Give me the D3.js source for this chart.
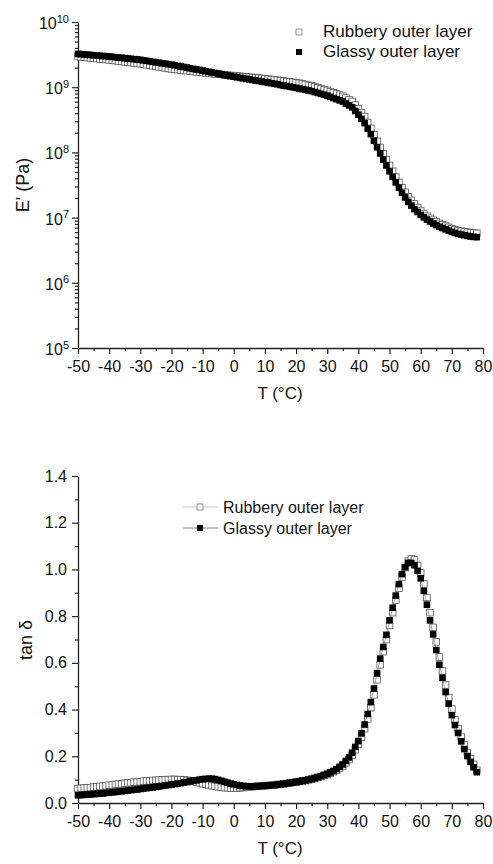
<!DOCTYPE html>
<html><head><meta charset="utf-8">
<script src="https://cdn.jsdelivr.net/npm/d3@7"></script>
<style>
body{margin:0;background:#fff}
svg{display:block}
text{font-family:"Liberation Sans",Arial,Helvetica,sans-serif;fill:#111}
</style>
</head><body>
<svg id="c" width="493" height="864"></svg>
<script>
// ---------- DATA ----------
const seriesNames = ["Rubbery outer layer", "Glassy outer layer"];
const temps = [-50,-49,-48,-47,-46,-45,-44,-43,-42,-41,-40,-39,-38,-37,-36,-35,-34,-33,-32,-31,
-30,-29,-28,-27,-26,-25,-24,-23,-22,-21,-20,-19,-18,-17,-16,-15,-14,-13,-12,-11,
-10,-9,-8,-7,-6,-5,-4,-3,-2,-1,0,1,2,3,4,5,6,7,8,9,10,11,12,13,14,15,16,17,18,19,
20,21,22,23,24,25,26,27,28,29,30,31,32,33,34,35,36,37,38,39,40,41,42,43,44,45,46,47,48,49,
50,51,52,53,54,55,56,57,58,59,60,61,62,63,64,65,66,67,68,69,70,71,72,73,74,75,76,77,78];

// Storage modulus E' (Pa)
const rubberyE = [2.95e9,2.92e9,2.88e9,2.85e9,2.82e9,2.79e9,2.75e9,2.72e9,2.69e9,2.66e9,
2.63e9,2.59e9,2.56e9,2.52e9,2.49e9,2.45e9,2.42e9,2.39e9,2.36e9,2.32e9,
2.29e9,2.25e9,2.21e9,2.17e9,2.13e9,2.09e9,2.05e9,2.01e9,1.98e9,1.94e9,
1.91e9,1.88e9,1.86e9,1.83e9,1.81e9,1.79e9,1.77e9,1.74e9,1.72e9,1.70e9,
1.68e9,1.66e9,1.64e9,1.62e9,1.60e9,1.58e9,1.57e9,1.55e9,1.53e9,1.51e9,
1.50e9,1.48e9,1.47e9,1.45e9,1.44e9,1.42e9,1.41e9,1.39e9,1.38e9,1.36e9,
1.35e9,1.33e9,1.31e9,1.29e9,1.28e9,1.26e9,1.24e9,1.22e9,1.21e9,1.19e9,
1.17e9,1.15e9,1.12e9,1.10e9,1.07e9,1.05e9,1.01e9,9.82e8,9.51e8,9.20e8,
8.91e8,8.55e8,8.20e8,7.87e8,7.55e8,7.24e8,6.81e8,6.41e8,6.03e8,5.31e8,
4.68e8,4.07e8,3.55e8,2.88e8,2.34e8,1.86e8,1.48e8,1.19e8,9.55e7,7.76e7,
6.31e7,5.13e7,4.17e7,3.47e7,2.88e7,2.45e7,2.09e7,1.84e7,1.62e7,1.43e7,
1.26e7,1.15e7,1.05e7,9.77e6,9.12e6,8.61e6,8.13e6,7.76e6,7.41e6,7.08e6,
6.76e6,6.53e6,6.31e6,6.17e6,6.03e6,5.96e6,5.89e6,5.82e6,5.75e6];

const glassyE = [3.24e9,3.21e9,3.18e9,3.15e9,3.12e9,3.09e9,3.06e9,3.03e9,3.01e9,2.98e9,
2.95e9,2.92e9,2.88e9,2.85e9,2.82e9,2.79e9,2.75e9,2.72e9,2.69e9,2.66e9,
2.63e9,2.58e9,2.54e9,2.50e9,2.45e9,2.41e9,2.37e9,2.33e9,2.29e9,2.25e9,
2.21e9,2.17e9,2.12e9,2.08e9,2.04e9,2.00e9,1.95e9,1.91e9,1.87e9,1.84e9,
1.80e9,1.76e9,1.72e9,1.69e9,1.65e9,1.61e9,1.58e9,1.54e9,1.51e9,1.48e9,
1.45e9,1.42e9,1.39e9,1.37e9,1.34e9,1.32e9,1.29e9,1.27e9,1.25e9,1.22e9,
1.20e9,1.18e9,1.15e9,1.13e9,1.11e9,1.08e9,1.06e9,1.04e9,1.02e9,9.98e8,
9.77e8,9.55e8,9.33e8,9.12e8,8.91e8,8.71e8,8.43e8,8.17e8,7.91e8,7.66e8,
7.41e8,7.11e8,6.82e8,6.55e8,6.28e8,6.03e8,5.62e8,5.25e8,4.90e8,4.32e8,
3.80e8,3.27e8,2.82e8,2.32e8,1.91e8,1.51e8,1.20e8,9.66e7,7.76e7,6.31e7,
5.13e7,4.22e7,3.47e7,2.88e7,2.40e7,2.04e7,1.74e7,1.53e7,1.35e7,1.22e7,
1.10e7,1.01e7,9.33e6,8.71e6,8.13e6,7.67e6,7.24e6,6.92e6,6.61e6,6.31e6,
6.03e6,5.82e6,5.62e6,5.50e6,5.37e6,5.25e6,5.13e6,5.07e6,5.01e6];

// Loss factor tan delta
const rubberyTan = [0.062,0.063,0.064,0.065,0.066,0.068,0.069,0.071,0.072,0.074,
0.076,0.077,0.079,0.081,0.082,0.084,0.086,0.087,0.089,0.090,
0.091,0.093,0.094,0.095,0.096,0.097,0.098,0.099,0.100,0.100,
0.101,0.101,0.100,0.100,0.099,0.097,0.095,0.093,0.090,0.087,
0.083,0.080,0.077,0.074,0.071,0.069,0.067,0.066,0.065,0.064,
0.064,0.064,0.065,0.066,0.068,0.069,0.070,0.071,0.072,0.073,
0.074,0.075,0.076,0.077,0.079,0.080,0.082,0.084,0.086,0.088,
0.090,0.092,0.094,0.096,0.099,0.102,0.105,0.109,0.113,0.118,
0.122,0.128,0.134,0.141,0.150,0.159,0.172,0.186,0.205,0.228,
0.252,0.282,0.318,0.360,0.408,0.463,0.528,0.592,0.648,0.700,
0.760,0.815,0.868,0.920,0.968,1.008,1.035,1.045,1.040,1.017,
0.985,0.938,0.880,0.815,0.752,0.690,0.625,0.565,0.505,0.452,
0.402,0.357,0.318,0.282,0.248,0.216,0.190,0.165,0.140];

const glassyTan = [0.033,0.034,0.035,0.036,0.037,0.038,0.039,0.040,0.041,0.043,
0.044,0.046,0.047,0.049,0.050,0.052,0.053,0.055,0.057,0.058,
0.060,0.062,0.064,0.065,0.067,0.069,0.071,0.073,0.075,0.077,
0.079,0.081,0.083,0.085,0.088,0.090,0.093,0.095,0.097,0.100,
0.102,0.103,0.104,0.104,0.102,0.099,0.095,0.091,0.087,0.083,
0.080,0.077,0.075,0.073,0.072,0.071,0.071,0.071,0.072,0.073,
0.074,0.075,0.076,0.077,0.079,0.080,0.082,0.084,0.086,0.088,
0.090,0.092,0.095,0.097,0.100,0.103,0.107,0.111,0.115,0.120,
0.125,0.131,0.137,0.145,0.155,0.165,0.180,0.195,0.215,0.240,
0.265,0.298,0.336,0.381,0.432,0.490,0.556,0.618,0.668,0.720,
0.782,0.836,0.888,0.937,0.980,1.010,1.028,1.028,1.018,0.994,
0.962,0.908,0.849,0.782,0.722,0.655,0.592,0.536,0.475,0.425,
0.376,0.334,0.300,0.264,0.231,0.201,0.176,0.153,0.132];

// Ticks
const xTicks = [-50,-40,-30,-20,-10,0,10,20,30,40,50,60,70,80];
const xMinorTicks = [-45,-35,-25,-15,-5,5,15,25,35,45,55,65,75];
const yTopExps = [5,6,7,8,9,10];
const yTopMinorMult = [2,3,4,5,6,7,8,9];
const yBotTicks = [0,0.2,0.4,0.6,0.8,1.0,1.2,1.4];
const yBotMinor = [0.1,0.3,0.5,0.7,0.9,1.1,1.3];

// ---------- DRAW ----------
const svg = d3.select("#c");
const x = d3.scaleLinear().domain([-50, 80]).range([78, 483]);
const yTop = d3.scaleLog().domain([1e5, 1e10]).range([348, 22]);
const yBot = d3.scaleLinear().domain([0, 1.4]).range([803, 476]);
const S = 6.6;
const axisColor = "#222";

function styleAxis(g) {
  g.selectAll("path.domain").attr("stroke", axisColor).attr("stroke-width", 1.3);
  g.selectAll(".tick line").attr("stroke", axisColor).attr("stroke-width", 1.2);
  g.selectAll(".tick text").attr("font-size", 16).attr("fill", "#111")
    .attr("font-family", '"Liberation Sans",Arial,sans-serif');
}

function drawXAxis(yPos) {
  const gMinor = svg.append("g").attr("transform", `translate(0,${yPos})`)
    .call(d3.axisBottom(x).tickValues(xMinorTicks).tickSize(3).tickSizeOuter(0).tickFormat(""));
  gMinor.select("path.domain").remove();
  styleAxis(gMinor);
  const g = svg.append("g").attr("transform", `translate(0,${yPos})`)
    .call(d3.axisBottom(x).tickValues(xTicks).tickSize(6).tickSizeOuter(0).tickPadding(7)
      .tickFormat(d => String(d)));
  styleAxis(g);
}

// ===== Top chart =====
const yTopMinor = [];
yTopExps.slice(0, -1).forEach(e => yTopMinorMult.forEach(m => yTopMinor.push(m * Math.pow(10, e))));
const gTm = svg.append("g").attr("transform", "translate(78,0)")
  .call(d3.axisLeft(yTop).tickValues(yTopMinor).tickSize(3).tickSizeOuter(0).tickFormat(""));
gTm.select("path.domain").remove();
styleAxis(gTm);
const gT = svg.append("g").attr("transform", "translate(78,0)")
  .call(d3.axisLeft(yTop).tickValues(yTopExps.map(e => Math.pow(10, e))).tickSize(6).tickSizeOuter(0).tickFormat(""));
styleAxis(gT);
yTopExps.forEach(e => {
  const t = svg.append("text").attr("x", 69).attr("y", yTop(Math.pow(10, e)) + 7)
    .attr("text-anchor", "end").attr("font-size", 16);
  t.append("tspan").text("10");
  t.append("tspan").attr("font-size", 11).attr("dy", -6.5).text(String(e));
});
drawXAxis(348);

svg.append("text").attr("x", 280).attr("y", 399).attr("text-anchor", "middle")
  .attr("font-size", 17).text("T (°C)");
svg.append("text").attr("transform", "translate(29,185) rotate(-90)").attr("text-anchor", "middle")
  .attr("font-size", 18).text("E' (Pa)");

const gDataTop = svg.append("g");
gDataTop.selectAll("rect.r").data(temps).join("rect").attr("class", "r")
  .attr("x", (d) => x(d) - S / 2).attr("y", (d, i) => yTop(rubberyE[i]) - S / 2)
  .attr("width", S).attr("height", S)
  .attr("fill", "#fff").attr("stroke", "#555").attr("stroke-width", 0.8);
gDataTop.selectAll("rect.g").data(temps).join("rect").attr("class", "g")
  .attr("x", (d) => x(d) - S / 2).attr("y", (d, i) => yTop(glassyE[i]) - S / 2)
  .attr("width", S).attr("height", S).attr("fill", "#000");

// top legend
svg.append("rect").attr("x", 299 - 3).attr("y", 32 - 3).attr("width", 6).attr("height", 6)
  .attr("fill", "#fff").attr("stroke", "#777").attr("stroke-width", 0.8);
svg.append("rect").attr("x", 299 - 3).attr("y", 52 - 3).attr("width", 6).attr("height", 6).attr("fill", "#000");
svg.append("text").attr("x", 323).attr("y", 37).attr("font-size", 17).text(seriesNames[0]);
svg.append("text").attr("x", 323).attr("y", 57).attr("font-size", 17).text(seriesNames[1]);

// ===== Bottom chart =====
const gBm = svg.append("g").attr("transform", "translate(78,0)")
  .call(d3.axisLeft(yBot).tickValues(yBotMinor).tickSize(3).tickSizeOuter(0).tickFormat(""));
gBm.select("path.domain").remove();
styleAxis(gBm);
const gB = svg.append("g").attr("transform", "translate(78,0)")
  .call(d3.axisLeft(yBot).tickValues(yBotTicks).tickSize(6).tickSizeOuter(0).tickPadding(5)
    .tickFormat(d3.format(".1f")));
styleAxis(gB);
drawXAxis(803);

svg.append("text").attr("x", 280).attr("y", 854).attr("text-anchor", "middle")
  .attr("font-size", 17).text("T (°C)");
svg.append("text").attr("transform", "translate(32,640) rotate(-90)").attr("text-anchor", "middle")
  .attr("font-size", 18).text("tan δ");

const lineR = d3.line().x(d => x(d)).y((d, i) => yBot(rubberyTan[i]));
const lineG = d3.line().x(d => x(d)).y((d, i) => yBot(glassyTan[i]));
const gDataBot = svg.append("g");
gDataBot.append("path").datum(temps).attr("d", lineR).attr("fill", "none")
  .attr("stroke", "#c4c4c4").attr("stroke-width", 0.8);
gDataBot.selectAll("rect.r").data(temps).join("rect").attr("class", "r")
  .attr("x", (d) => x(d) - S / 2).attr("y", (d, i) => yBot(rubberyTan[i]) - S / 2)
  .attr("width", S).attr("height", S)
  .attr("fill", "#fff").attr("stroke", "#555").attr("stroke-width", 0.8);
gDataBot.append("path").datum(temps).attr("d", lineG).attr("fill", "none")
  .attr("stroke", "#888").attr("stroke-width", 0.8);
gDataBot.selectAll("rect.g").data(temps).join("rect").attr("class", "g")
  .attr("x", (d) => x(d) - S / 2).attr("y", (d, i) => yBot(glassyTan[i]) - S / 2)
  .attr("width", S).attr("height", S).attr("fill", "#000");

// bottom legend
svg.append("line").attr("x1", 183).attr("x2", 218).attr("y1", 507).attr("y2", 507)
  .attr("stroke", "#c4c4c4").attr("stroke-width", 0.9);
svg.append("rect").attr("x", 200 - 3).attr("y", 507 - 3).attr("width", 6).attr("height", 6)
  .attr("fill", "#fff").attr("stroke", "#777").attr("stroke-width", 0.8);
svg.append("line").attr("x1", 183).attr("x2", 218).attr("y1", 528).attr("y2", 528)
  .attr("stroke", "#777").attr("stroke-width", 0.9);
svg.append("rect").attr("x", 200 - 3).attr("y", 528 - 3).attr("width", 6).attr("height", 6).attr("fill", "#000");
svg.append("text").attr("x", 223).attr("y", 513).attr("font-size", 16).text(seriesNames[0]);
svg.append("text").attr("x", 223).attr("y", 534).attr("font-size", 16).text(seriesNames[1]);
</script>
</body></html>
